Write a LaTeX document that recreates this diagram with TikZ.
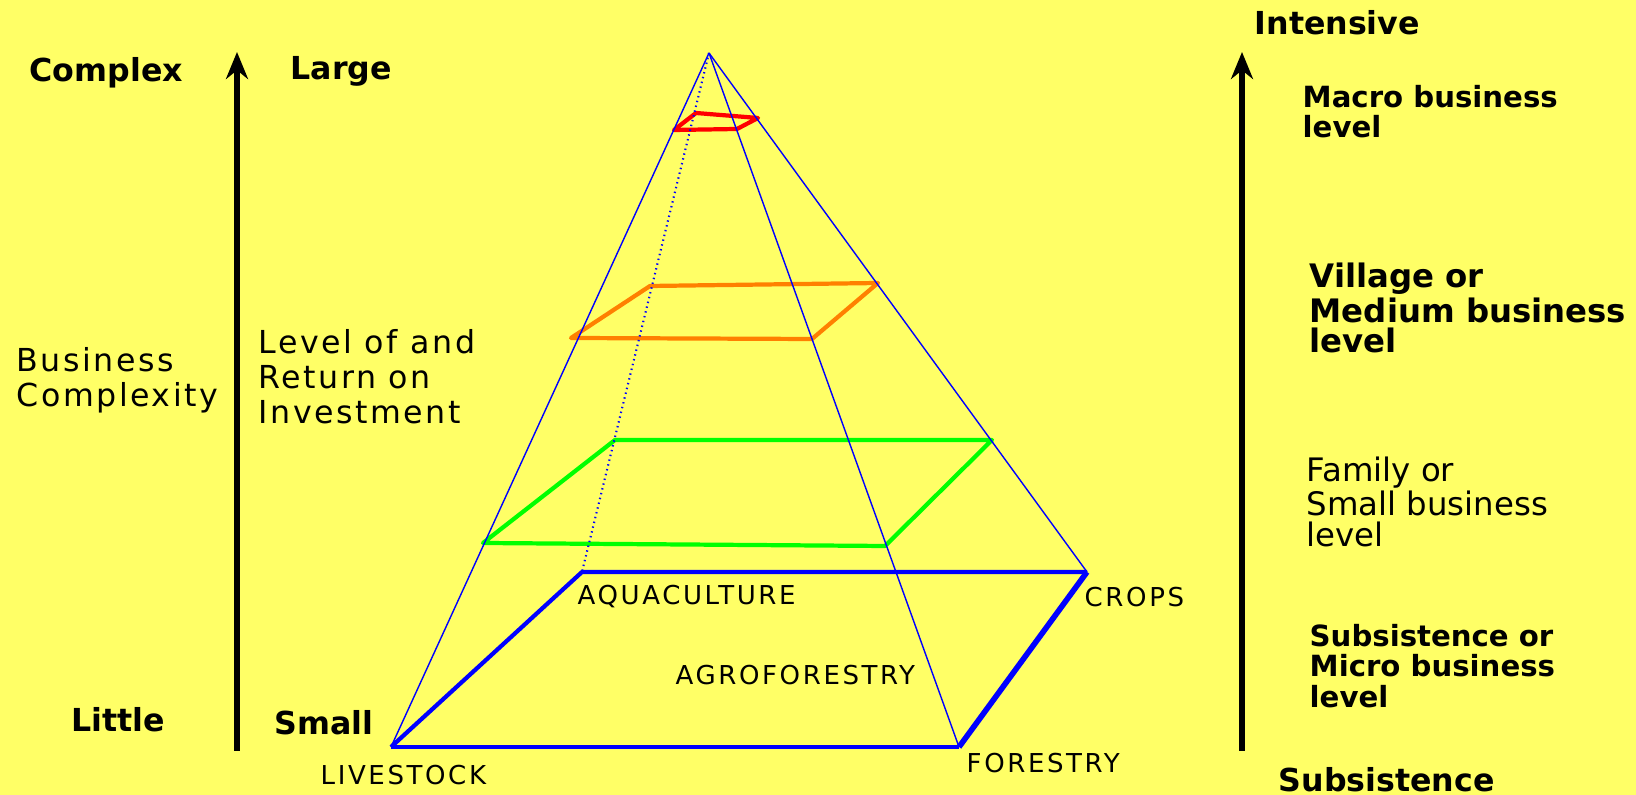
\documentclass[tikz,border=0pt]{standalone}
\usepackage{fontspec}
\setmainfont{DejaVu Sans}
\newfontfamily\spacedfont[LetterSpace=8]{DejaVu Sans}
\newfontfamily\capsfont[LetterSpace=10]{DejaVu Sans}
\usetikzlibrary{arrows.meta}
\definecolor{bgyellow}{RGB}{255,255,102}
\definecolor{pyrblue}{RGB}{0,0,255}
\definecolor{layergreen}{RGB}{0,255,0}
\definecolor{layerorange}{RGB}{255,128,0}
\definecolor{layerred}{RGB}{255,0,0}

\begin{document}
\begin{tikzpicture}[x=0.01cm, y=-0.01cm,
  axislabel/.style={font=\bfseries\fontsize{9}{10}\selectfont, inner sep=0pt, anchor=west},
  sidenote/.style={font=\spacedfont\fontsize{9}{10}\selectfont, align=left, inner sep=0pt, anchor=west},
  levelnote/.style={font=\bfseries\fontsize{8.3}{8.6}\selectfont, align=left, inner sep=0pt, anchor=west},
  plainnote/.style={font=\fontsize{9.2}{8.8}\selectfont, align=left, inner sep=0pt, anchor=west},
  sector/.style={font=\capsfont\fontsize{7.4}{8}\selectfont, inner sep=0pt, anchor=west},
  edge/.style={draw=pyrblue, line width=0.4pt},
  base/.style={draw=pyrblue, line width=1.2pt, line join=round},
  layer/.style={line width=1.2pt, line join=round},
  axis/.style={line width=1.6pt, -{Stealth[length=0.27cm, width=0.22cm]}}
]

\useasboundingbox (0,0) rectangle (1636,795);
\fill[bgyellow] (0,0) rectangle (1636,795);

% ---- Pyramid corners ----
\coordinate (T)  at (709, 53);   % apex
\coordinate (LV) at (391, 747);  % livestock
\coordinate (FO) at (959, 747);  % forestry
\coordinate (CR) at (1087, 572); % crops
\coordinate (AQ) at (582, 572);  % aquaculture

% ---- Layers ----
\coordinate (G1) at (483, 543);
\coordinate (G2) at (885, 546);
\coordinate (G3) at (992, 440);
\coordinate (G4) at (615, 440);
\coordinate (O1) at (571, 338);
\coordinate (O2) at (812, 339);
\coordinate (O3) at (878, 283);
\coordinate (O4) at (650, 286);
\coordinate (R1) at (674, 130);
\coordinate (R2) at (737, 129);
\coordinate (R3) at (758, 118);
\coordinate (R4) at (696, 113);

\draw[layer, layergreen]  (G1) -- (G2) -- (G3) -- (G4) -- cycle;
\draw[layer, layerorange] (O1) -- (O2) -- (O3) -- (O4) -- cycle;
\draw[layer, layerred]    (R1) -- (R2) -- (R3) -- (R4) -- cycle;

% ---- Edges ----
\draw[edge] (T) -- (LV);
\draw[edge] (T) -- (FO);
\draw[edge] (T) -- (CR);
\draw[edge, densely dotted, line width=0.6pt] (T) -- (AQ);
\draw[base] (LV) -- (FO);
\draw[base] (LV) -- (AQ) -- (CR);
\draw[base, line width=1.6pt] (CR) -- (FO);

% ---- Axes ----
\coordinate (cx0) at (237, 751);
\coordinate (cx1) at (237, 52);
\coordinate (ix0) at (1242, 751);
\coordinate (ix1) at (1242, 52);
\draw[axis] (cx0) -- (cx1);
\draw[axis] (ix0) -- (ix1);

% ---- Labels ----
\node[axislabel] (complex) at (29, 73)   {Complex};
\node[axislabel] (large)   at (290, 71)  {Large};
\node[axislabel] (little)  at (71, 720)  {Little};
\node[axislabel] (small)   at (274, 723) {Small};
\node[axislabel] (intens)  at (1254, 23) {Intensive};
\node[axislabel] (subsist) at (1278, 780) {Subsistence};

\node[sidenote] (complexity) at (16, 380)  {Business\\Complexity};
\node[sidenote] (return)     at (258, 377) {Level of and\\Return on\\Investment};

\node[levelnote] (macro)   at (1302, 112) {Macro business\\level};
\node[levelnote, font=\bfseries\fontsize{9.2}{8.7}\selectfont] (village) at (1309, 308) {Village or\\Medium business\\level};
\node[plainnote] (family)  at (1306, 502) {Family or\\Small business\\level};
\node[levelnote] (micro)   at (1309, 666) {Subsistence or\\Micro business\\level};

\node[sector] (livestock) at (320, 775)  {LIVESTOCK};
\node[sector] (forestry)  at (966, 763)  {FORESTRY};
\node[sector] (aqua)      at (577, 597)  {AQUACULTURE};
\node[sector] (crops)     at (1084, 597) {CROPS};
\node[sector] (agro)      at (675, 675)  {AGROFORESTRY};
\end{tikzpicture}
\end{document}
